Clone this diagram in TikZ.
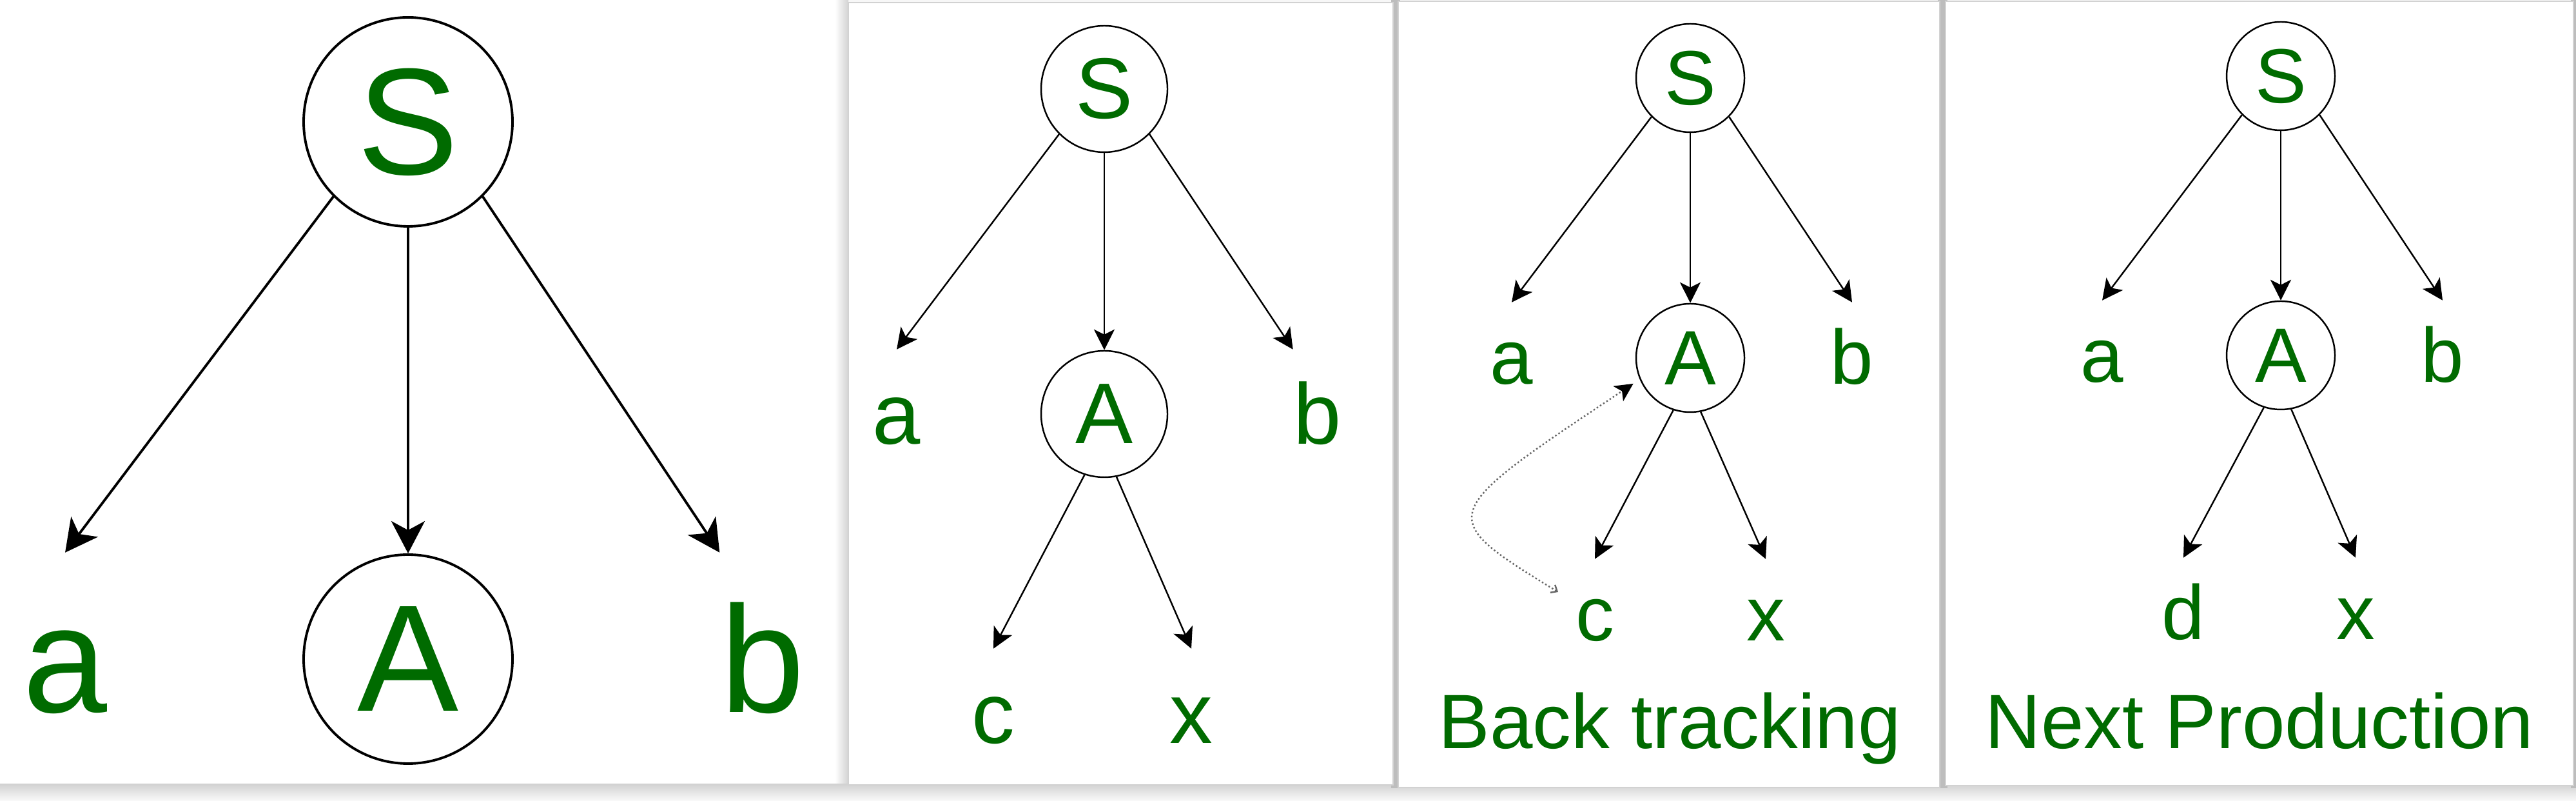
\documentclass[tikz,border=0pt]{standalone}
\usepackage{fontspec}
\setmainfont{Liberation Sans}
\usetikzlibrary{arrows.meta}
\definecolor{symbolColor}{HTML}{006B00}
\definecolor{gapColor}{HTML}{BDBDBD}

\begin{document}
\begin{tikzpicture}[
	line width=0.7pt,
	nonterm/.style={circle, draw=black, inner sep=0pt, text=symbolColor},
	leaf/.style={inner sep=0pt, anchor=base, text depth=0pt, text=symbolColor},
	bigfont/.style={font=\fontsize{67}{80}\selectfont},
	midfont/.style={font=\fontsize{38}{46}\selectfont},
	smallfont/.style={font=\fontsize{34}{41}\selectfont},
	leafOne/.style={leaf, bigfont, text height=2.47cm},
	leafTwo/.style={leaf, midfont, text height=1.46cm},
	leafThree/.style={leaf, smallfont, text height=1.26cm},
	caption/.style={inner sep=0pt, anchor=base, text=symbolColor, smallfont},
	bigedge/.style={-{Stealth[length=0.5cm, width=0.52cm, inset=0.14cm]}, line width=1.1pt},
	edge/.style={-{Stealth[length=0.32cm, width=0.32cm, inset=0.08cm]}},
	backtrack/.style={densely dotted, gray!80!black,
		{Straight Barb[length=0.08cm, width=0.14cm]}-{Stealth[black, length=0.28cm, width=0.28cm, inset=0.07cm]}},
	panel/.style={fill=white, draw=gray!35, line width=0.5pt}
	]
	
	% --- 1. Canvas and panel frames ---
	\useasboundingbox (0,0) rectangle (39.96,12.42);
	\fill[gray!6] (0,0) rectangle (39.96,12.42);
	\shade[top color=gray!40, bottom color=gray!4] (0,0) rectangle (39.96,0.30);
	\fill[gapColor] (21.58,0.20) rectangle (21.72,12.42);
	\fill[gapColor] (30.06,0.20) rectangle (30.21,12.42);
	\fill[gapColor] (39.88,0.20) rectangle (39.96,12.42);
	\shade[left color=white, right color=gray!35] (12.95,0.27) rectangle (13.16,12.42);
	\fill[white] (0,0.27) rectangle (12.95,12.42);
	\draw[panel] (13.16,0.25) rectangle (21.61,12.38);
	\draw[panel] (21.69,0.21) rectangle (30.09,12.40);
	\draw[panel] (30.18,0.24) rectangle (39.92,12.40);
	
	% --- 2. First step: S -> a A b ---
	\node[nonterm, bigfont, minimum size=3.24cm, line width=1.1pt] (S1) at (6.33,10.53) {S};
	\node[nonterm, bigfont, minimum size=3.24cm, line width=1.1pt] (A1) at (6.33,2.20) {A};
	\node[leafOne] (a1) at (1.01,1.37) {a};
	\node[leafOne] (b1) at (11.83,1.37) {b};
	\draw[bigedge] (S1.225) -- (a1.north);
	\draw[bigedge] (S1) -- (A1);
	\draw[bigedge] (S1.-45) -- (b1.north west);
	
	% --- 3. First production of A ---
	\node[nonterm, midfont, minimum size=1.96cm] (S2) at (17.13,11.04) {S};
	\node[nonterm, midfont, minimum size=1.96cm] (A2) at (17.13,6.00) {A};
	\node[leafTwo] (a2) at (13.91,5.53) {a};
	\node[leafTwo] (b2) at (20.44,5.53) {b};
	\node[leafTwo] (c2) at (15.41,0.89) {c};
	\node[leafTwo] (x2) at (18.48,0.89) {x};
	\draw[edge] (S2.225) -- (a2.north);
	\draw[edge] (S2) -- (A2);
	\draw[edge] (S2.-45) -- (b2.north west);
	\draw[edge] (A2.252) -- (c2.north);
	\draw[edge] (A2.281) -- (x2.north);
	
	% --- 4. Back tracking ---
	\node[nonterm, smallfont, minimum size=1.68cm] (S3) at (26.22,11.21) {S};
	\node[nonterm, smallfont, minimum size=1.68cm] (A3) at (26.22,6.87) {A};
	\node[leafThree] (a3) at (23.45,6.46) {a};
	\node[leafThree] (b3) at (28.73,6.46) {b};
	\node[leafThree] (c3) at (24.74,2.48) {c};
	\node[leafThree] (x3) at (27.39,2.48) {x};
	\node[caption] (back) at (25.90,0.81) {Back tracking};
	\draw[edge] (S3.225) -- (a3.north);
	\draw[edge] (S3) -- (A3);
	\draw[edge] (S3.-45) -- (b3.north);
	\draw[edge] (A3.252) -- (c3.north);
	\draw[edge] (A3.281) -- (x3.north);
	\coordinate (retry) at (24.17,3.24);
	\draw[backtrack, shorten >=0.12cm] (retry) .. controls (22.25,4.42) .. (A3.203);
	
	% --- 5. Next production of A ---
	\node[nonterm, smallfont, minimum size=1.68cm] (S4) at (35.38,11.24) {S};
	\node[nonterm, smallfont, minimum size=1.68cm] (A4) at (35.38,6.91) {A};
	\node[leafThree] (a4) at (32.61,6.49) {a};
	\node[leafThree] (b4) at (37.89,6.49) {b};
	\node[leafThree] (d4) at (33.87,2.50) {d};
	\node[leafThree] (x4) at (36.54,2.50) {x};
	\node[caption] (next) at (35.05,0.81) {Next Production};
	\draw[edge] (S4.225) -- (a4.north);
	\draw[edge] (S4) -- (A4);
	\draw[edge] (S4.-45) -- (b4.north);
	\draw[edge] (A4.252) -- (d4.north);
	\draw[edge] (A4.281) -- (x4.north);
	
\end{tikzpicture}
\end{document}
